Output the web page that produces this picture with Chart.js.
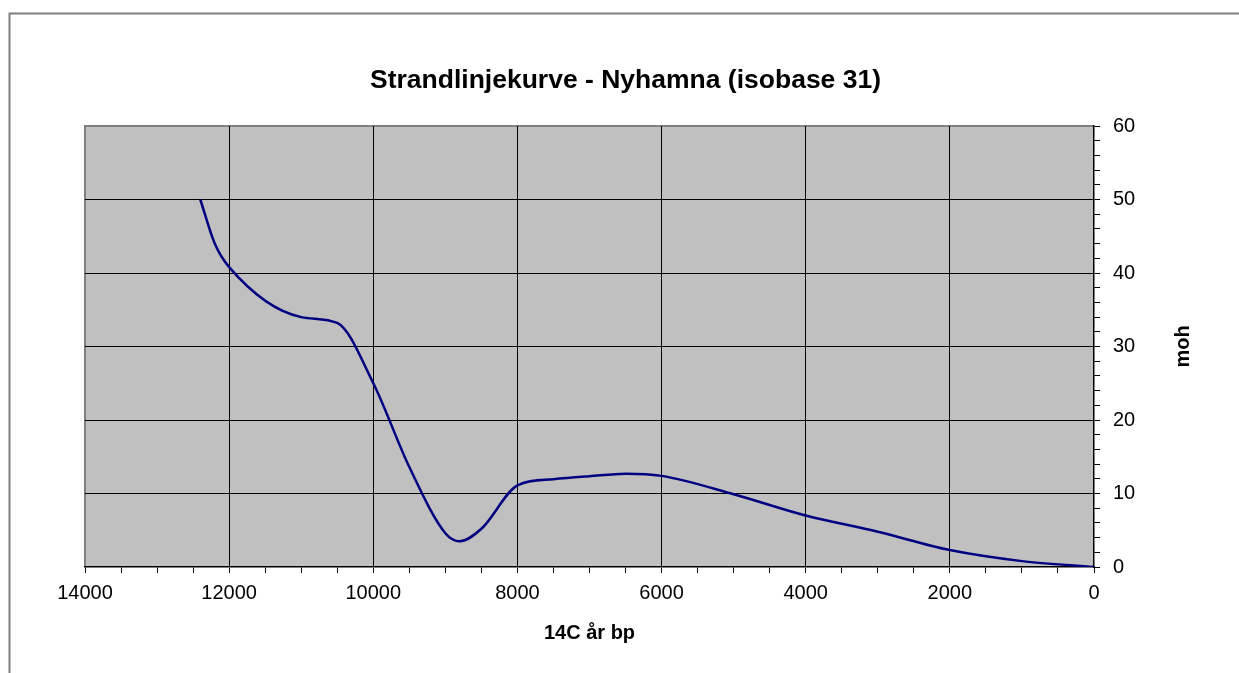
<!DOCTYPE html>
<html>
<head>
<meta charset="utf-8">
<script src="https://cdn.jsdelivr.net/npm/chart.js@4/dist/chart.umd.min.js"></script>
<style>
  body { margin: 0; background: #fff; }
  canvas { display: block; }
</style>
</head>
<body>
<canvas id="strandChart" width="1239" height="673"></canvas>
<script>
// 14C years bp and shoreline height (moh)
const years = [12400, 12200, 12000, 11000, 10500, 10000, 9500, 9000, 8800, 8500, 8000, 7500, 7000, 6500, 6000, 5000, 4000, 3000, 2000, 1000, 0];
const moh = [50, 44, 40.8, 34, 33.2, 25, 13.6, 4.6, 3.5, 5.2, 11.1, 11.95, 12.35, 12.7, 12.4, 9.9, 7.0, 4.8, 2.3, 0.8, 0];

const xMajor = 2000;
const yMajor = 10;

const FONT = '"Liberation Sans", Arial, sans-serif';

const points = years.map((yr, i) => ({ x: yr, y: moh[i] }));

// gray plot area + outer chart border, and the rotated "moh" label
const excelLook = {
    id: 'excelLook',
    beforeDraw(chart) {
        const { ctx, chartArea: a } = chart;
        ctx.save();
        ctx.strokeStyle = '#7f7f7f';
        ctx.lineWidth = 2;
        ctx.strokeRect(9.5, 13.5, 1240, 680);
        ctx.fillStyle = '#c0c0c0';
        ctx.fillRect(a.left, a.top, a.right - a.left, a.bottom - a.top);
        ctx.beginPath();
        ctx.moveTo(a.left, a.bottom);
        ctx.lineTo(a.left, a.top);
        ctx.lineTo(a.right, a.top);
        ctx.stroke();
        ctx.restore();
    },
    afterDraw(chart) {
        const { ctx, chartArea: a } = chart;
        ctx.save();
        ctx.translate(1183, (a.top + a.bottom) / 2);
        ctx.rotate(-Math.PI / 2);
        ctx.font = 'bold 20px ' + FONT;
        ctx.fillStyle = '#000';
        ctx.textAlign = 'center';
        ctx.textBaseline = 'middle';
        ctx.fillText('moh', 0, 0);
        ctx.restore();
    }
};

//eslint-disable-next-line
const strandChart = new Chart(document.getElementById('strandChart'), {
    type: 'line',
    data: {
        datasets: [{
            label: 'Nyhamna',
            data: points,
            borderColor: '#000080',
            borderWidth: 2.5,
            pointRadius: 0,
            fill: false,
            cubicInterpolationMode: 'monotone'
        }]
    },
    options: {
        responsive: false,
        animation: false,
        layout: { padding: { left: 12, right: 0, top: 0, bottom: 0 } },
        plugins: {
            legend: { display: false },
            tooltip: { enabled: false },
            title: {
                display: true,
                text: 'Strandlinjekurve - Nyhamna (isobase 31)',
                color: '#000',
                font: { family: FONT, size: 26.5, weight: 'bold', lineHeight: 1.2 },
                padding: { top: 65, bottom: 29.2 }
            }
        },
        scales: {
            x: {
                type: 'linear',
                reverse: true,
                min: 0,
                max: 14000,
                afterFit(scale) { scale.height = 106; },
                ticks: {
                    stepSize: 500,
                    autoSkip: false,
                    maxRotation: 0,
                    padding: 8,
                    color: '#000',
                    font: { family: FONT, size: 20 },
                    callback: v => (v % xMajor === 0 ? String(v) : '')
                },
                grid: {
                    color: c => (c.tick && c.tick.value % xMajor === 0 && c.tick.value !== 14000 && c.tick.value !== 0) ? '#000' : 'transparent',
                    tickColor: '#000',
                    tickLength: 6,
                    lineWidth: 1
                },
                border: { display: true, color: '#000', width: 1.5 },
                title: {
                    display: true,
                    text: '14C år bp',
                    color: '#000',
                    font: { family: FONT, size: 20, weight: 'bold' },
                    padding: { top: 0, bottom: 28 }
                }
            },
            y: {
                position: 'right',
                min: 0,
                max: 60,
                afterFit(scale) { scale.width = 145; },
                ticks: {
                    stepSize: 2,
                    autoSkip: false,
                    padding: 13,
                    color: '#000',
                    font: { family: FONT, size: 20 },
                    callback: v => (v % yMajor === 0 ? String(v) : '')
                },
                grid: {
                    color: c => (c.tick && c.tick.value % yMajor === 0 && c.tick.value !== 60 && c.tick.value !== 0) ? '#000' : 'transparent',
                    tickColor: '#000',
                    tickLength: 6,
                    lineWidth: 1
                },
                border: { display: true, color: '#000', width: 1.5 }
            },
            // empty left axis, only reserves the margin left of the plot
            yl: {
                position: 'left',
                afterFit(scale) { scale.width = 73; },
                ticks: { display: false },
                grid: { display: false },
                border: { display: false }
            }
        }
    },
    plugins: [excelLook]
});
</script>
</body>
</html>
